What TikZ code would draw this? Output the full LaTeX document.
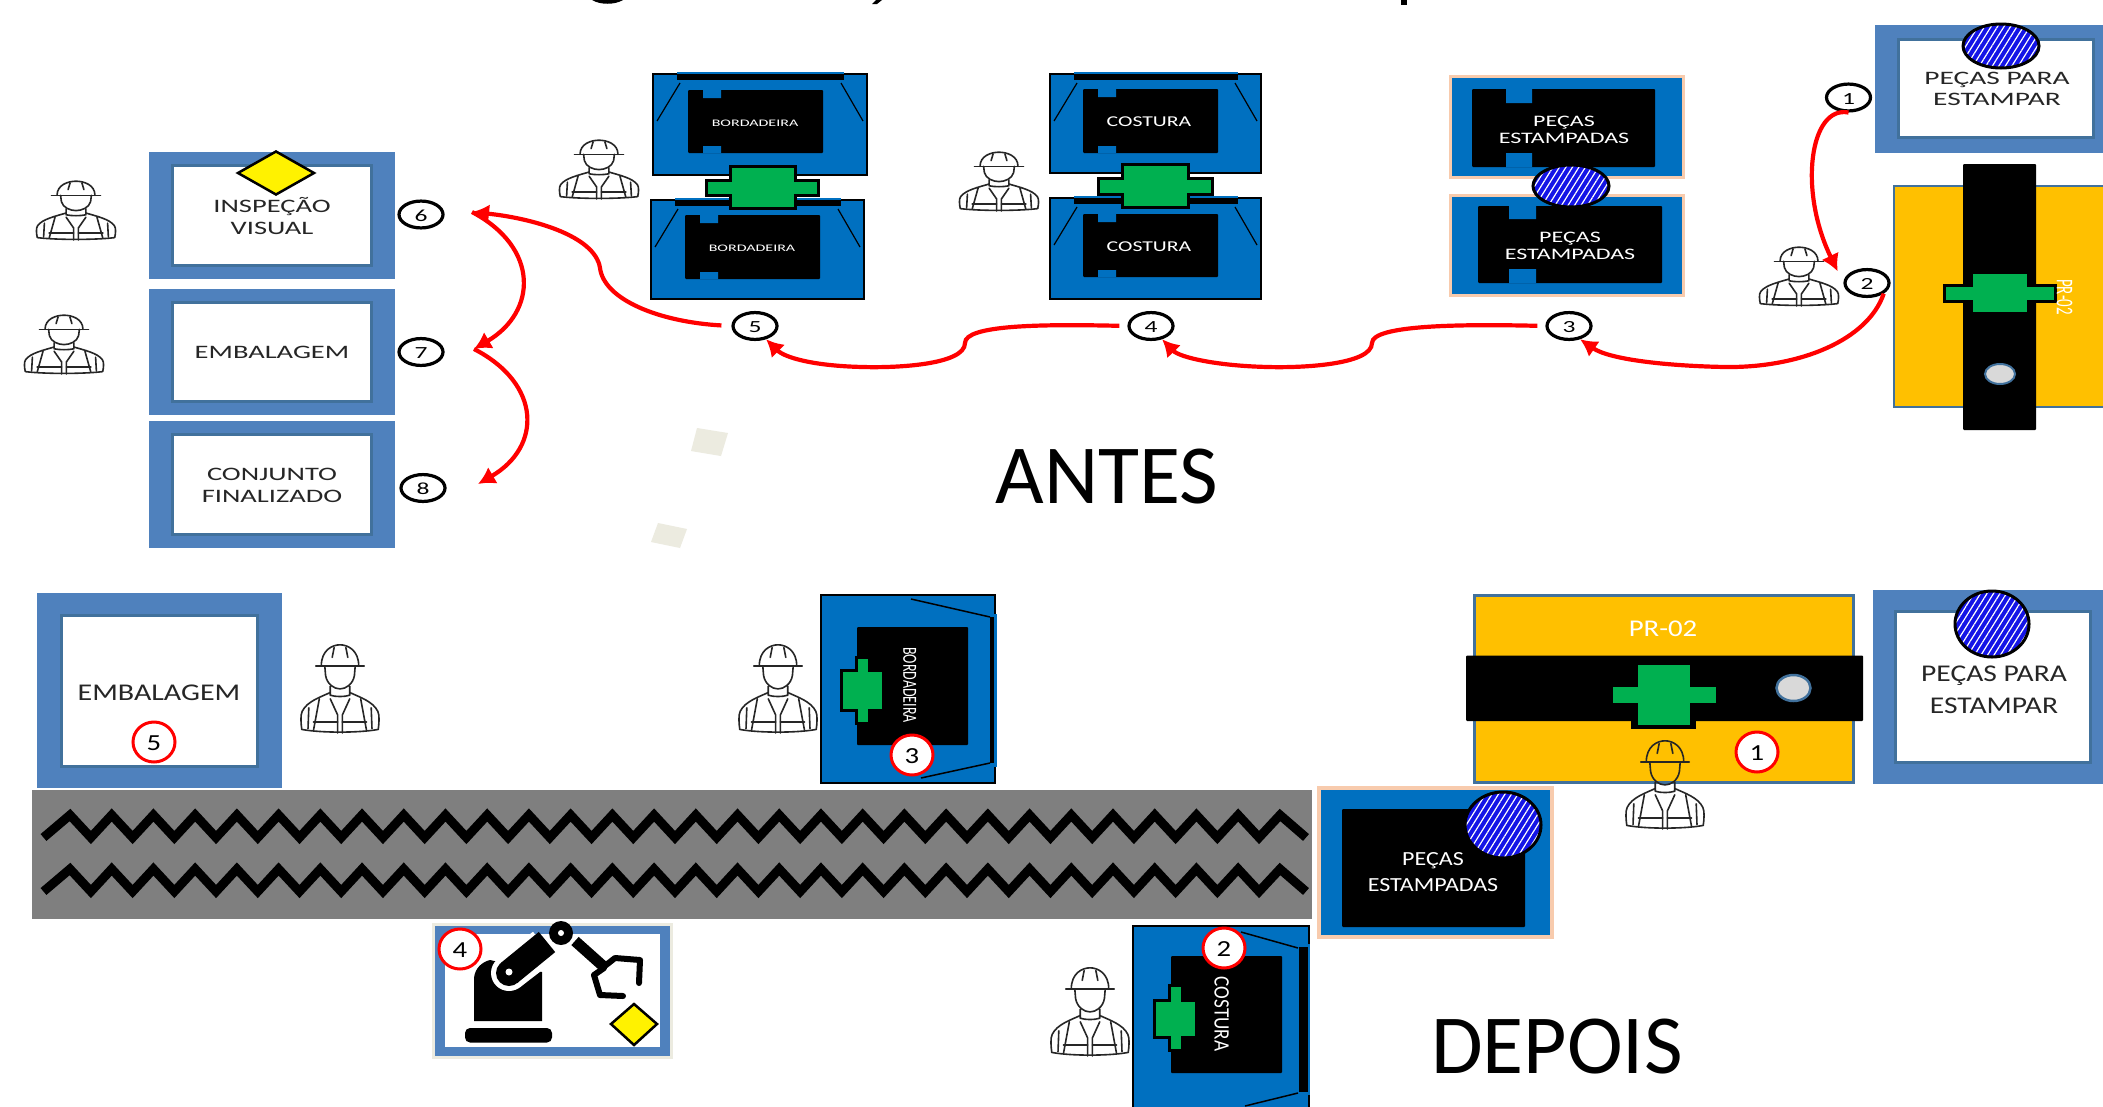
\documentclass[tikz,border=0pt]{standalone}
\usepackage{fontspec}
\usepackage{graphicx}
\usepackage{xcolor}
\usepackage{tikz}
\usetikzlibrary{arrows.meta,shapes.geometric,patterns.meta}
\setmainfont{Carlito}

\definecolor{frameblue}{HTML}{4F81BD}
\definecolor{framedark}{HTML}{41719C}
\definecolor{machblue}{HTML}{0070C0}
\definecolor{partgreen}{HTML}{00B050}
\definecolor{pressyellow}{HTML}{FFC000}
\definecolor{halo}{HTML}{F8CBAD}
\definecolor{hatchblue}{HTML}{1414E6}
\definecolor{beltgray}{HTML}{7F7F7F}
\definecolor{stain}{HTML}{ECEBE0}

\tikzset{
  frameout/.style={fill=frameblue,draw=frameblue},
  frameinn/.style={fill=white,draw=framedark,line width=3pt},
  blackbox/.style={fill=black,rounded corners=1pt},
  machbody/.style={fill=machblue,draw=black,line width=2.5pt},
  greenplus/.style={fill=partgreen,draw=black,line width=3pt},
  gemdiamond/.style={fill=yellow,draw=black,line width=2.5pt},
  txtnode/.style={inner sep=0pt,text=black!85},
  whitenode/.style={inner sep=0pt,text=white},
  bignode/.style={inner sep=0pt,font=\fontsize{84}{90}\selectfont},
  antesnum/.style={ellipse,draw=black,fill=white,line width=3.2pt,minimum width=44pt,minimum height=26pt,inner sep=0pt},
  depoisnum/.style={ellipse,draw=red,fill=white,line width=3pt,minimum width=42pt,minimum height=40pt,inner sep=0pt},
  hatchdisc/.style={ellipse,draw=black,line width=3pt,inner sep=0pt,preaction={fill=hatchblue},
    pattern={Lines[angle=58,distance=5.5pt,line width=1.2pt]},pattern color=white},
  redarrow/.style={draw=red,line width=4.2pt,-{Latex[length=17pt,width=19pt]}},
  workerline/.style={draw=black!85,line width=1.6pt,line join=round,line cap=round},
  topworker/.style={xscale=39.5,yscale=60},
  lowworker/.style={xscale=39,yscale=90},
  pics/worker/.style={code={
    \draw[workerline] (-.62,.255) -- (.62,.255);
    \draw[workerline] (-.48,.255) .. controls (-.48,.08) and (-.2,.02) .. (0,.02) .. controls (.2,.02) and (.48,.08) .. (.48,.255);
    \draw[workerline] (-.2,.16) -- (-.15,.05) (.2,.16) -- (.15,.05);
    \draw[workerline] (-.39,.255) -- (-.37,.36) .. controls (-.33,.46) and (-.15,.51) .. (0,.51) .. controls (.15,.51) and (.33,.46) .. (.37,.36) -- (.39,.255);
    \draw[workerline] (-.25,.48) -- (-.25,.58) .. controls (-.1,.6) and (.1,.6) .. (.25,.58) -- (.25,.48);
    \draw[workerline] (-.25,.55) .. controls (-.5,.6) and (-.85,.65) .. (-.97,.76) .. controls (-1.02,.8) and (-1,.9) .. (-.98,.96) .. controls (-.5,1) and (.5,1) .. (.98,.96) .. controls (1,.9) and (1.02,.8) .. (.97,.76) .. controls (.85,.65) and (.5,.6) .. (.25,.55);
    \draw[workerline] (-.53,.62) -- (-.68,.97) (.53,.62) -- (.68,.97);
    \draw[workerline] (-.25,.62) -- (-.06,.8) -- (-.06,1) (.25,.62) -- (.06,.8) -- (.06,1);
    \draw[workerline] (-.68,.88) -- (-.06,.88) (.06,.88) -- (.68,.88);
    \draw[workerline] (-.8,.72) -- (-.82,.95) (.8,.72) -- (.82,.95);
  }}
}

% size, leading, horizontal stretch, text
\newcommand{\lbl}[4]{\scalebox{#3}[1]{\fontsize{#1}{#2}\selectfont\raisebox{-.16em}[\height][\depth]{\begin{tabular}{@{}c@{}}#4\end{tabular}}}}
% x1, x2, y1, y2 of the bar, then x1, x2, y1, y2 of the post
\newcommand{\plusshape}[8]{\draw[greenplus] (#5,#7) -- (#6,#7) -- (#6,#3) -- (#2,#3) -- (#2,#4) -- (#6,#4) -- (#6,#8) -- (#5,#8) -- (#5,#4) -- (#1,#4) -- (#1,#3) -- (#5,#3) -- cycle;}
% outer x1, y1, x2, y2, inner x1, y1, x2, y2
\newcommand{\machtop}[8]{
  \draw[machbody] (#1,#2) rectangle (#3,#4);
  \fill[black] ({#1+24},#2) rectangle ({#3-23},{#2+6});
  \draw[machblue,line width=1.5pt] ({#1+24},{#2-1}) -- ({#3-23},{#2-1});
  \draw[black,line width=1.2pt] ({#1+27},{#2+9}) -- ({#1+4},{#2+47}) ({#3-26},{#2+9}) -- ({#3-4},{#2+47});
  \fill[blackbox] (#5,#6) rectangle (#7,#8);
  \fill[machblue] ({#5+15},#6) rectangle ({#5+33},{#6+8}) ({#5+15},{#8-7}) rectangle ({#5+33},#8);
}

\begin{document}
\begin{tikzpicture}[x=1pt,y=-1pt]
    \useasboundingbox (0,0) rectangle (2103,1106);
    \fill[white] (0,0) rectangle (2103,1106);
    \clip (0,0) rectangle (2103,1106);

    % Title remains
    \fill[black] (592,0) .. controls (600,5) and (615,5) .. (623,0) -- cycle;
    \fill[black] (872,4) -- (877,4) -- (882,0) -- (876,0) -- cycle;
    \fill[black] (1401,0) rectangle (1407,4.5);

    % Stains
    \fill[stain] (697,428) -- (728,433) -- (721,456) -- (691,451) -- cycle;
    \fill[stain] (658,523) -- (687,529) -- (680,548) -- (651,542) -- cycle;

    % ANTES: frames on the left
    \foreach \ya/\yb/\yc/\yd in {152/278/165/265,289/414/302/401,421/547/434/534}{
      \fill[frameout] (149,\ya) rectangle (394,\yb);
      \draw[frameinn] (172,\yc) rectangle (371,\yd);
    }
    \node[txtnode] (inspecao) at (272,216) {\lbl{19}{21.5}{1.5}{INSPEÇÃO\\VISUAL}};
    \node[txtnode] (embalagem) at (272,351) {\lbl{19}{21.5}{1.5}{EMBALAGEM}};
    \node[txtnode] (conjunto) at (272,484) {\lbl{19}{21.5}{1.5}{CONJUNTO\\FINALIZADO}};
    \draw[gemdiamond] (276,151.5) -- (314,173) -- (276,194.5) -- (238,173) -- cycle;

    % ANTES: machines
    \machtop{653}{74}{867}{175}{688}{90}{823}{153}
    \machtop{651}{200}{864}{299}{685}{215}{820}{279}
    \plusshape{706}{818}{180}{195}{730}{795}{166}{208}
    \node[whitenode] (bordaa) at (755,122) {\lbl{10}{12}{1.6}{BORDADEIRA}};
    \node[whitenode] (bordab) at (752,247) {\lbl{10}{12}{1.6}{BORDADEIRA}};

    \machtop{1050}{74}{1261}{173}{1083}{89}{1218}{153}
    \machtop{1050}{198}{1261}{299}{1083}{214}{1218}{277}
    \plusshape{1098}{1212}{178}{194}{1122}{1188}{164}{207}
    \node[whitenode] (costa) at (1149,121) {\lbl{15}{17}{1.45}{COSTURA}};
    \node[whitenode] (costb) at (1149,246) {\lbl{15}{17}{1.45}{COSTURA}};

    \draw[fill=machblue,draw=halo,line width=3pt] (1450,76) rectangle (1683,177);
    \fill[blackbox] (1472,89) rectangle (1655,167);
    \fill[machblue] (1506,89) rectangle (1532,103) (1506,153) rectangle (1532,167);
    \draw[fill=machblue,draw=halo,line width=3pt] (1450,195) rectangle (1683,295);
    \fill[blackbox] (1478,206) rectangle (1662,283);
    \fill[machblue] (1509,206) rectangle (1536,219) (1509,269) rectangle (1536,283);
    \node[whitenode] (pecasa) at (1564,129) {\lbl{16}{17.5}{1.5}{PEÇAS\\ESTAMPADAS}};
    \node[whitenode] (pecasb) at (1570,245) {\lbl{16}{17.5}{1.5}{PEÇAS\\ESTAMPADAS}};
    \node[hatchdisc,minimum width=76pt,minimum height=42pt] (discb) at (1571,186) {};

    \fill[frameout] (1875,25) rectangle (2103,152);
    \draw[frameinn] (1898,39) rectangle (2093,137);
    \node[txtnode] (pecasc) at (1997,88) {\lbl{19}{21}{1.55}{PEÇAS PARA\\ESTAMPAR}};
    \node[hatchdisc,minimum width=76pt,minimum height=44pt] (discc) at (2001,46) {};

    \draw[fill=pressyellow,draw=framedark,line width=2pt] (1894,186) rectangle (2110,407);
    \fill[blackbox] (1963,164) rectangle (2036,430);
    \plusshape{1944}{2055}{285}{301}{1971}{2028}{272}{313}
    \draw[fill=black!15,draw=framedark,line width=2pt] (2000,374) ellipse (15 and 10);
    \node[whitenode,rotate=-90] (prensaa) at (2066,297) {\lbl{24}{26}{.62}{PR-02}};

    % ANTES: numbers
    \node[antesnum] (nA) at (1848.5,97.5) {\lbl{17}{19}{1.5}{1}};
    \node[antesnum] (nB) at (1867,283) {\lbl{17}{19}{1.5}{2}};
    \node[antesnum] (nC) at (1569,326) {\lbl{17}{19}{1.5}{3}};
    \node[antesnum] (nD) at (1151,326) {\lbl{17}{19}{1.5}{4}};
    \node[antesnum] (nE) at (755,326) {\lbl{17}{19}{1.5}{5}};
    \node[antesnum] (nF) at (421,214.5) {\lbl{17}{19}{1.5}{6}};
    \node[antesnum] (nG) at (421,352) {\lbl{17}{19}{1.5}{7}};
    \node[antesnum] (nH) at (423,488) {\lbl{17}{19}{1.5}{8}};
    \coordinate (tipF) at (472,212);
    \coordinate (tipG) at (474,349);
    \coordinate (tipH) at (478,484);

    % ANTES: flow
    \draw[redarrow,shorten >=13pt] (nA.south) .. controls (1810,105) and (1798,190) .. (nB.west);
    \draw[redarrow] (nB.south east) .. controls (1868,340) and (1800,368) .. (1725,367) .. controls (1670,366) and (1610,360) .. (nC.-50);
    \draw[redarrow,shorten <=8pt] (nC.west) .. controls (1460,324) and (1372,325) .. (1372,343) .. controls (1372,365) and (1300,368) .. (1268,367) .. controls (1220,366) and (1180,358) .. (nD.-50);
    \draw[redarrow,shorten <=8pt] (nD.west) .. controls (1040,324) and (965,325) .. (965,343) .. controls (965,365) and (895,368) .. (863,367) .. controls (815,366) and (785,358) .. (nE.-50);
    \draw[redarrow,shorten <=10pt] (nE.west) .. controls (660,322) and (604,300) .. (600,268) .. controls (595,235) and (530,218) .. (tipF);
    \draw[redarrow] (tipF) .. controls (540,248) and (537,312) .. (tipG);
    \draw[redarrow] (tipG) .. controls (542,384) and (542,447) .. (tipH);

    % Workers
    \pic[topworker] (wa) at (76,180) {worker};
    \pic[topworker] (wb) at (64,314) {worker};
    \pic[topworker] (wc) at (599,139) {worker};
    \pic[topworker] (wd) at (999,151) {worker};
    \pic[topworker] (we) at (1799,246) {worker};

    \node[bignode] (antes) at (1107,477) {ANTES};

    % DEPOIS: belt
    \fill[beltgray] (32,789.5) rectangle (1312,919);
    \foreach \ya in {837.5,891.5}{
      \draw[black,line width=9pt] (43.5,\ya) \foreach \k in {0,...,28}{ -- ({70+41.72*\k},{\ya-22.5}) -- ({90.9+41.72*\k},\ya) } -- (1280,{\ya-22.5}) -- (1306,\ya);
    }

    % DEPOIS: frames
    \fill[frameout] (37,593) rectangle (281,787);
    \draw[frameinn] (61,615) rectangle (257,766);
    \node[txtnode] (embalagemb) at (159,691) {\lbl{24}{26}{1.25}{EMBALAGEM}};
    \fill[frameout] (1873,590) rectangle (2103,783);
    \draw[frameinn] (1895,611) rectangle (2090,762);
    \node[txtnode] (pecasd) at (1994,687) {\lbl{24}{32}{1.23}{PEÇAS PARA\\ESTAMPAR}};
    \node[hatchdisc,minimum width=74pt,minimum height=66pt] (discd) at (1992,624) {};

    % DEPOIS: stations
    \draw[machbody] (821,595) rectangle (995,783);
    \fill[blackbox] (857,627) rectangle (968,745);
    \fill[machblue] (988,614) rectangle (997,767);
    \fill[black] (990,617) rectangle (994,763);
    \draw[black,line width=1.5pt] (911,599) -- (990,617) (921,778) -- (990,763);
    \plusshape{841}{883}{670}{710}{856}{869}{657}{723}
    \node[whitenode,rotate=-90] (bordac) at (911,685) {\lbl{20}{22}{.7}{BORDADEIRA}};

    \draw[machbody] (1133,926) rectangle (1309,1120);
    \fill[blackbox] (1171,956) rectangle (1282,1073);
    \fill[machblue] (1298,944) rectangle (1310,1095);
    \fill[black] (1299,947) rectangle (1308,1092);
    \draw[black,line width=1.5pt] (1241,932) -- (1298,948) (1245,1106) -- (1298,1093);
    \plusshape{1154}{1196}{1000}{1037}{1169}{1182}{985}{1050}
    \node[whitenode,rotate=-90] (costc) at (1223,1014) {\lbl{22}{24}{.87}{COSTURA}};

    \draw[fill=machblue,draw=halo,line width=4pt] (1319,788) rectangle (1552,937);
    \fill[blackbox] (1342,809) rectangle (1525,927);
    \node[whitenode] (pecase) at (1433,870) {\lbl{20}{26}{1.2}{PEÇAS\\ESTAMPADAS}};
    \node[hatchdisc,minimum width=76pt,minimum height=66pt] (disce) at (1503,825) {};

    \draw[fill=pressyellow,draw=framedark,line width=3pt] (1474,595) rectangle (1853,782);
    \fill[blackbox] (1466,655.5) rectangle (1863,721);
    \fill[black] (1631,700) rectangle (1696,729);
    \plusshape{1611}{1717}{685}{704}{1636}{1691}{663}{726}
    \draw[fill=black!15,draw=framedark,line width=2.5pt] (1793.5,688) ellipse (17 and 13);
    \node[whitenode] (prensab) at (1663,627) {\lbl{24}{26}{1.2}{PR-02}};

    % DEPOIS: robot cell
    \draw[fill=frameblue,draw=stain,line width=3pt] (433,924.5) rectangle (671,1057);
    \fill[white] (445,934) rectangle (660,1047);
    \fill[black,rounded corners=5pt] (465,1028) rectangle (552,1042.5);
    \fill[black] (474,1021) -- (474,978) .. controls (475,968) and (482,962) .. (490,960) -- (542,972) -- (542,1021) -- cycle;
    \draw[white,line width=36pt] (509,973) -- (544,946);
    \fill[white] (509,973) circle (18);
    \draw[black,line width=26pt] (509,973) -- (547,942);
    \fill[black] (509,973) circle (13);
    \fill[white] (509,972) circle (3.5);
    \draw[black,line width=11pt] (575,941) -- (603,966);
    \draw[black,line width=6pt,line join=round,line cap=round] (601,969) -- (615,958) -- (640,960) -- (639,983);
    \draw[black,line width=6pt,line join=round,line cap=round] (604,968) -- (594,975) -- (600,995) -- (623,996);
    \fill[black] (561,933) circle (12);
    \fill[white] (561,933) circle (3);
    \draw[gemdiamond] (634,1004) -- (657,1024) -- (634,1045) -- (611,1024) -- cycle;

    % DEPOIS: numbers
    \node[depoisnum] (ma) at (1757,752) {\lbl{23}{25}{1.25}{1}};
    \node[depoisnum] (mb) at (1224,948) {\lbl{23}{25}{1.25}{2}};
    \node[depoisnum] (mc) at (912,755) {\lbl{23}{25}{1.25}{3}};
    \node[depoisnum] (md) at (460,949) {\lbl{23}{25}{1.25}{4}};
    \node[depoisnum] (me) at (154,742) {\lbl{23}{25}{1.25}{5}};

    % Workers
    \pic[lowworker] (wf) at (340,643) {worker};
    \pic[lowworker] (wg) at (778,643) {worker};
    \pic[lowworker] (wh) at (1665,739) {worker};
    \pic[lowworker] (wi) at (1090,966) {worker};

    \node[bignode] (depois) at (1557,1047) {DEPOIS};
\end{tikzpicture}
\end{document}
